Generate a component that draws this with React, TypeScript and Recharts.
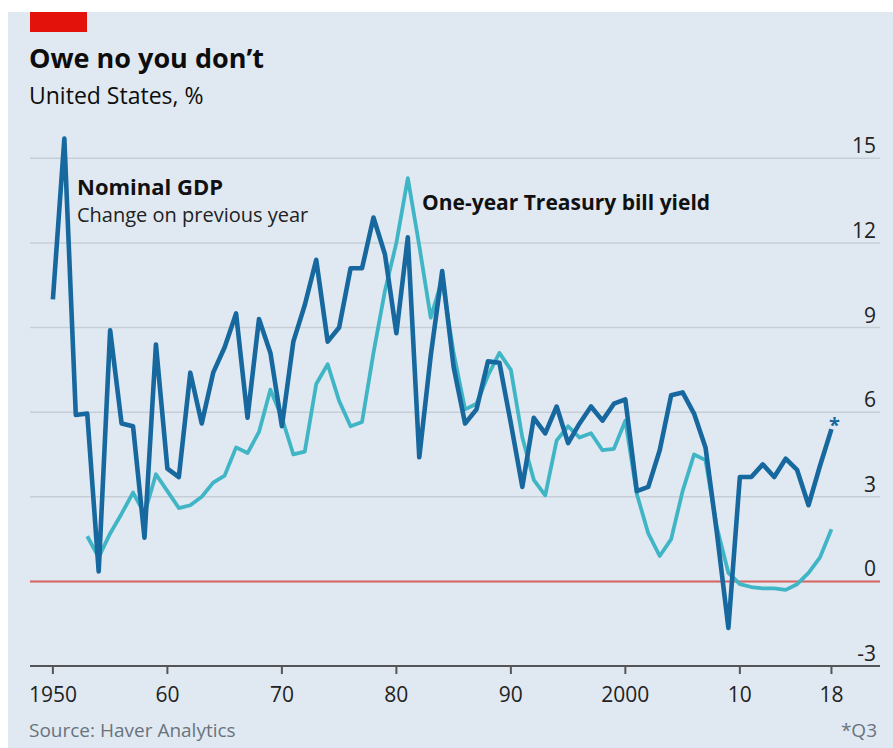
import { LineChart, Line, XAxis, YAxis, CartesianGrid, ReferenceLine } from 'recharts'

const years = [
  1950, 1951, 1952, 1953, 1954, 1955, 1956, 1957, 1958, 1959,
  1960, 1961, 1962, 1963, 1964, 1965, 1966, 1967, 1968, 1969,
  1970, 1971, 1972, 1973, 1974, 1975, 1976, 1977, 1978, 1979,
  1980, 1981, 1982, 1983, 1984, 1985, 1986, 1987, 1988, 1989,
  1990, 1991, 1992, 1993, 1994, 1995, 1996, 1997, 1998, 1999,
  2000, 2001, 2002, 2003, 2004, 2005, 2006, 2007, 2008, 2009,
  2010, 2011, 2012, 2013, 2014, 2015, 2016, 2017, 2018,
]

// nominal GDP, % change on previous year (2018 = Q3)
const nominalGdp = [
  10.0, 15.7, 5.9, 5.95, 0.35, 8.9, 5.6, 5.5, 1.55, 8.4,
  4.0, 3.7, 7.4, 5.6, 7.4, 8.3, 9.5, 5.8, 9.3, 8.1,
  5.5, 8.5, 9.8, 11.4, 8.5, 9.0, 11.1, 11.1, 12.9, 11.6,
  8.8, 12.2, 4.4, 8.0, 11.0, 7.6, 5.6, 6.1, 7.8, 7.75,
  5.6, 3.35, 5.8, 5.25, 6.2, 4.9, 5.6, 6.2, 5.7, 6.3,
  6.45, 3.2, 3.35, 4.65, 6.6, 6.7, 5.95, 4.75, 1.7, -1.65,
  3.7, 3.7, 4.15, 3.7, 4.35, 3.95, 2.7, 4.1, 5.4,
]

// one-year Treasury bill yield, % (starts 1953)
const tbillYield = [
  null, null, null, 1.6, 0.85, 1.7, 2.4, 3.15, 2.4, 3.8,
  3.2, 2.6, 2.7, 3.0, 3.5, 3.75, 4.75, 4.55, 5.3, 6.8,
  5.8, 4.5, 4.6, 7.0, 7.7, 6.4, 5.5, 5.65, 8.1, 10.3,
  12.0, 14.3, 11.9, 9.35, 10.7, 8.1, 6.1, 6.3, 7.3, 8.1,
  7.5, 5.1, 3.6, 3.05, 5.0, 5.5, 5.1, 5.25, 4.65, 4.7,
  5.7, 3.1, 1.7, 0.9, 1.5, 3.2, 4.5, 4.3, 1.9, 0.3,
  -0.1, -0.2, -0.25, -0.25, -0.3, -0.1, 0.3, 0.85, 1.85,
]

const xTicks = [1950, 1960, 1970, 1980, 1990, 2000, 2010, 2017, 2018]
const xTickLabels = ['1950', '60', '70', '80', '90', '2000', '10', '', '18']
const yTicks = [-3, 0, 3, 6, 9, 12, 15]

const data = years.map((year, i) => ({ year, gdp: nominalGdp[i], tbill: tbillYield[i] }))

const FONT = "'Open Sans', sans-serif"
const GDP_BLUE = '#17689e'
const TBILL_CYAN = '#3fb5c6'

function XTick({ x, y, payload }: any) {
  const i = xTicks.indexOf(payload.value)
  return (
    <g>
      <line x1={x} x2={x} y1={y - 8} y2={y} stroke="#555" strokeWidth={2} />
      <text x={x} y={y + 28} textAnchor="middle" fontFamily={FONT} fontSize={21} fill="#222">
        {xTickLabels[i]}
      </text>
    </g>
  )
}

function YTick({ y, payload }: any) {
  return (
    <text x={876} y={y - 5} textAnchor="end" fontFamily={FONT} fontSize={21} fill="#222">
      {payload.value}
    </text>
  )
}

function StarDot({ cx, cy, index }: any) {
  if (index !== years.length - 1) return null
  return (
    <text key="star" x={cx + 3} y={cy + 3} textAnchor="middle" fontFamily={FONT} fontSize={20}
      fontWeight={700} fill={GDP_BLUE}>*</text>
  )
}

export default function App() {
  return (
    <div style={{ position: 'absolute', left: 0, top: 0, width: 893, height: 748, background: '#fff' }}>
      <div style={{ position: 'absolute', left: 8, top: 12, width: 885, height: 736, background: '#e0e9f1' }} />
      <div style={{ position: 'absolute', left: 0, top: 0 }}>
        <LineChart width={893} height={748} data={data} margin={{ top: 116, right: 0, bottom: 0, left: 30 }}>
          <CartesianGrid vertical={false} horizontalValues={yTicks} stroke="#c6cfd7" strokeWidth={1.5} />
          <XAxis
            dataKey="year" type="number" domain={[1948, 2022.24]} ticks={xTicks}
            axisLine={{ stroke: '#555', strokeWidth: 2 }} tickLine={false}
            tickSize={8} tickMargin={0} tick={<XTick />} height={82}
          />
          <YAxis
            orientation="right" domain={[-3, 16.5]} ticks={yTicks} width={13}
            axisLine={false} tickLine={false} tick={<YTick />} allowDataOverflow
          />
          <ReferenceLine y={0} stroke="#d8625e" strokeWidth={2} />
          <Line
            type="linear" dataKey="tbill" stroke={TBILL_CYAN} strokeWidth={3.8}
            dot={false} connectNulls={false} isAnimationActive={false} strokeLinejoin="round"
          />
          <Line
            type="linear" dataKey="gdp" stroke={GDP_BLUE} strokeWidth={4.6}
            dot={<StarDot />} isAnimationActive={false} strokeLinejoin="round"
          />
        </LineChart>
      </div>
      <svg width={893} height={748} style={{ position: 'absolute', left: 0, top: 0, pointerEvents: 'none' }}>
        <rect x={30} y={12} width={57} height={20} fill="#e3120b" />
        <text x={29} y={68} fontFamily={FONT} fontSize={27} fontWeight={700} fill="#0d0d0d">
          Owe no you don’t
        </text>
        <text x={29} y={104} fontFamily={FONT} fontSize={23} fill="#0d0d0d">United States, %</text>
        <text x={77} y={195} fontFamily={FONT} fontSize={22} fontWeight={700} fill="#111">Nominal GDP</text>
        <text x={77} y={222} fontFamily={FONT} fontSize={20} fill="#222">Change on previous year</text>
        <text x={422} y={210} fontFamily={FONT} fontSize={21} fontWeight={700} fill="#111">
          One-year Treasury bill yield
        </text>
        <text x={29} y={737} fontFamily={FONT} fontSize={19} fill="#69737d">Source: Haver Analytics</text>
        <text x={877} y={737} textAnchor="end" fontFamily={FONT} fontSize={19} fill="#69737d">*Q3</text>
      </svg>
    </div>
  )
}
